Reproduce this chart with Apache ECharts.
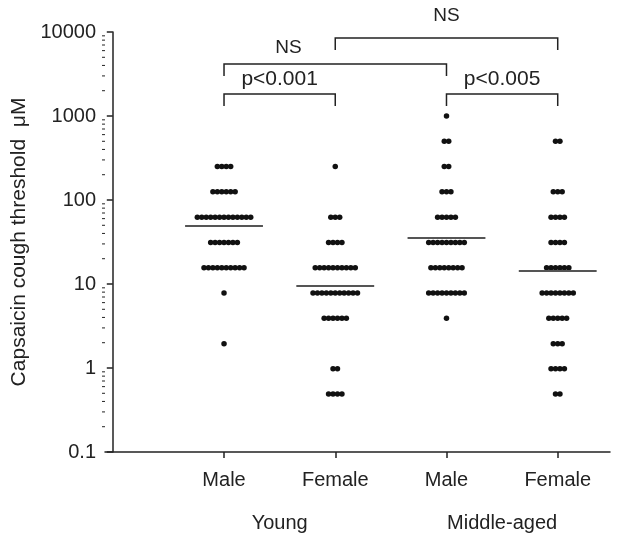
<!DOCTYPE html>
<html>
<head>
<meta charset="utf-8">
<script src="https://cdn.jsdelivr.net/npm/echarts@6/dist/echarts.min.js"></script>
<style>
  html, body { margin: 0; padding: 0; background: #fff; }
  #chart { width: 618px; height: 541px; }
</style>
</head>
<body>
<div id="chart"></div>
<script>
// doubling concentrations of capsaicin (uM)
const doses = [0.49, 0.98, 1.95, 3.9, 7.8, 15.6, 31.25, 62.5, 125, 250, 500, 1000];
const groupLabels = ["Male", "Female", "Male", "Female"];
const ageLabels = ["Young", "Middle-aged"];
// number of subjects at each dose, per group
const youngMale = [0, 0, 1, 0, 1, 10, 7, 13, 6, 4, 0, 0];
const youngFemale = [4, 2, 0, 6, 11, 10, 4, 3, 0, 1, 0, 0];
const middleMale = [0, 0, 0, 1, 9, 8, 9, 5, 3, 2, 2, 1];
const middleFemale = [2, 4, 3, 5, 8, 6, 4, 4, 3, 0, 2, 0];
const means = [49, 9.5, 36, 14.4];

const FONT = "'Liberation Sans', Arial, sans-serif";
const groups = [youngMale, youngFemale, middleMale, middleFemale];
const pitch = 0.04;

const points = [];
groups.forEach(function (counts, g) {
  counts.forEach(function (n, d) {
    for (let i = 0; i < n; i++) {
      points.push([g + 1 + (i - (n - 1) / 2) * pitch, doses[d]]);
    }
  });
});

const minor = [];
for (let k = -1; k < 4; k++) {
  for (let m = 2; m < 10; m++) minor.push(m * Math.pow(10, k));
}

const myChart = echarts.init(document.getElementById("chart"));
const xMin = -0.07, xMax = 4.47;

const option = {
  animation: false,
  grid: { left: 105, right: 8, top: 32, bottom: 89, outerBoundsMode: "none", containLabel: false },
  xAxis: {
    type: "value",
    min: xMin,
    max: xMax,
    splitLine: { show: false },
    axisLine: { lineStyle: { color: "#222", width: 1.5 } },
    axisTick: { customValues: [1, 2, 3, 4], length: 6, lineStyle: { color: "#222", width: 1.5 } },
    axisLabel: {
      customValues: [1, 2, 3, 4],
      formatter: function (v) { return groupLabels[Math.round(v) - 1]; },
      margin: 18,
      fontSize: 20,
      fontFamily: FONT,
      color: "#222"
    }
  },
  yAxis: {
    type: "log",
    logBase: 10,
    min: 0.1,
    max: 10000,
    name: "Capsaicin cough threshold  μM",
    nameLocation: "middle",
    nameGap: 62,
    nameTextStyle: { fontSize: 21, fontFamily: FONT, color: "#222" },
    splitLine: { show: false },
    axisLine: { show: true, lineStyle: { color: "#222", width: 1.5 } },
    axisTick: { length: 6, lineStyle: { color: "#222", width: 1.5 } },
    axisLabel: {
      margin: 9,
      fontSize: 20,
      fontFamily: FONT,
      color: "#222",
      formatter: function (v) { return String(+v.toPrecision(3)); }
    }
  },
  series: [
    {
      type: "scatter",
      data: points,
      symbolSize: 5.5,
      itemStyle: { color: "#111", opacity: 1 },
      markLine: {
        symbol: "none",
        silent: true,
        label: { show: false },
        lineStyle: { color: "#555", width: 2, type: "solid" },
        data: means.map(function (m, g) {
          return [{ coord: [g + 1 - 0.35, m] }, { coord: [g + 1 + 0.35, m] }];
        })
      }
    },
    {
      type: "custom",
      silent: true,
      clip: false,
      data: minor,
      renderItem: function (params, api) {
        const p = api.coord([xMin, api.value(0)]);
        return {
          type: "line",
          shape: { x1: p[0] - 3, y1: p[1], x2: p[0], y2: p[1] },
          style: { stroke: "#222", lineWidth: 1 }
        };
      },
      encode: { y: 0 }
    }
  ]
};
myChart.setOption(option);

// significance brackets and group captions
function px(x) { return myChart.convertToPixel({ gridIndex: 0 }, [x, 1])[0]; }
const brackets = [
  { a: 2, b: 4, y: 38, text: "NS", size: 19, tx: 3, ty: 16 },
  { a: 1, b: 3, y: 64, text: "NS", size: 19, tx: 1.58, ty: 48 },
  { a: 1, b: 2, y: 94, text: "p<0.001", size: 21, tx: 1.5, ty: 79 },
  { a: 3, b: 4, y: 94, text: "p<0.005", size: 21, tx: 3.5, ty: 79 }
];
const graphic = [];
brackets.forEach(function (br) {
  const x1 = px(br.a), x2 = px(br.b);
  graphic.push({
    type: "polyline",
    shape: { points: [[x1, br.y + 12], [x1, br.y], [x2, br.y], [x2, br.y + 12]] },
    style: { stroke: "#222", lineWidth: 1.5, fill: null }
  });
  graphic.push({
    type: "text",
    x: px(br.tx),
    y: br.ty,
    style: {
      text: br.text,
      fontSize: br.size,
      fontFamily: FONT,
      fill: "#222",
      align: "center",
      verticalAlign: "middle"
    }
  });
});
ageLabels.forEach(function (t, i) {
  graphic.push({
    type: "text",
    x: (px(2 * i + 1) + px(2 * i + 2)) / 2,
    y: 523,
    style: { text: t, fontSize: 20, fontFamily: FONT, fill: "#222", align: "center", verticalAlign: "middle" }
  });
});
myChart.setOption({ graphic: graphic });
</script>
</body>
</html>
